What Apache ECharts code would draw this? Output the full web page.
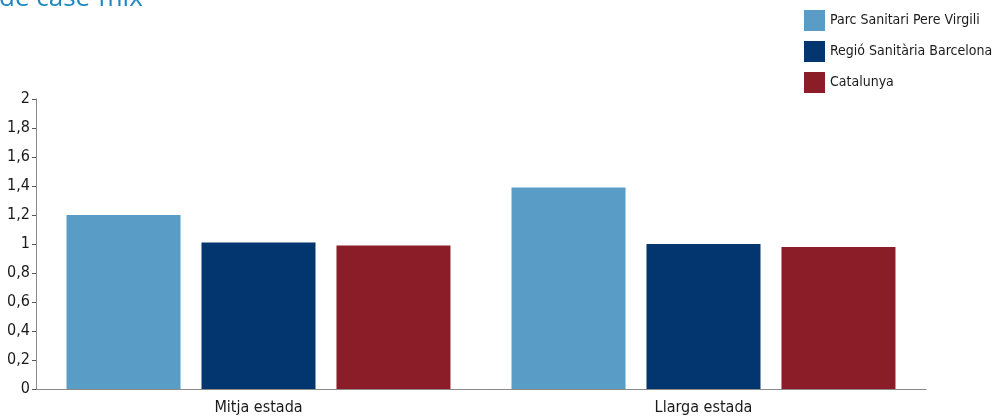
<!DOCTYPE html>
<html>
<head>
<meta charset="utf-8">
<script src="https://cdn.jsdelivr.net/npm/echarts@6/dist/echarts.min.js"></script>
<style>
  html, body { margin: 0; padding: 0; background: #fff; }
  #chart { width: 997px; height: 420px; }
</style>
</head>
<body>
<div id="chart"></div>
<script>
// Case-mix index by stay type
const categories = ['Mitja estada', 'Llarga estada'];
const seriesNames = ['Parc Sanitari Pere Virgili', 'Regió Sanitària Barcelona', 'Catalunya'];
const pereVirgili = [1.2, 1.39];
const regioBarcelona = [1.01, 1.0];
const catalunya = [0.99, 0.98];
const yMin = 0;
const yMax = 2;
const yStep = 0.2;

const colors = ['#599dc6', '#03366f', '#8b1d29'];
const narrow = '"Liberation Sans Narrow", "DejaVu Sans Condensed", "Roboto", sans-serif';

const chart = echarts.init(document.getElementById('chart'), null, { renderer: 'canvas' });

function bar(name, data, color) {
  return {
    name: name,
    type: 'bar',
    data: data,
    barWidth: 114,
    barGap: '18.4%',
    itemStyle: { color: color },
    emphasis: { disabled: true }
  };
}

chart.setOption({
  animation: false,
  graphic: [{
    type: 'text',
    x: -1,
    y: -14,
    silent: true,
    style: {
      text: 'de case-mix',
      font: '26px "Open Sans", "Noto Sans", sans-serif',
      fill: '#1d89c2'
    }
  }],
  legend: {
    orient: 'vertical',
    left: 804,
    top: 10,
    padding: 0,
    itemWidth: 21,
    itemHeight: 21,
    itemGap: 10,
    icon: 'rect',
    data: seriesNames,
    textStyle: { fontFamily: narrow, fontSize: 14, color: '#1a1a1a' }
  },
  grid: { left: 36, top: 99, width: 890, height: 290, containLabel: false },
  xAxis: {
    type: 'category',
    data: categories,
    axisLine: { lineStyle: { color: '#8a8a8a', width: 1 } },
    axisTick: {
      inside: true,
      length: 5,
      interval: 0,
      lineStyle: { color: '#555' }
    },
    axisLabel: { fontFamily: narrow, fontSize: 16, color: '#1a1a1a', margin: 11 }
  },
  yAxis: {
    type: 'value',
    min: yMin,
    max: yMax,
    interval: yStep,
    axisLine: { show: true, lineStyle: { color: '#8a8a8a', width: 1 } },
    axisTick: { show: true, length: 4, lineStyle: { color: '#555' } },
    splitLine: { show: false },
    axisLabel: {
      fontFamily: narrow,
      fontSize: 16,
      color: '#1a1a1a',
      margin: 6,
      formatter: function (v) { return String(Math.round(v * 10) / 10).replace('.', ','); }
    }
  },
  series: [
    bar(seriesNames[0], pereVirgili, colors[0]),
    bar(seriesNames[1], regioBarcelona, colors[1]),
    bar(seriesNames[2], catalunya, colors[2])
  ]
});
</script>
</body>
</html>
